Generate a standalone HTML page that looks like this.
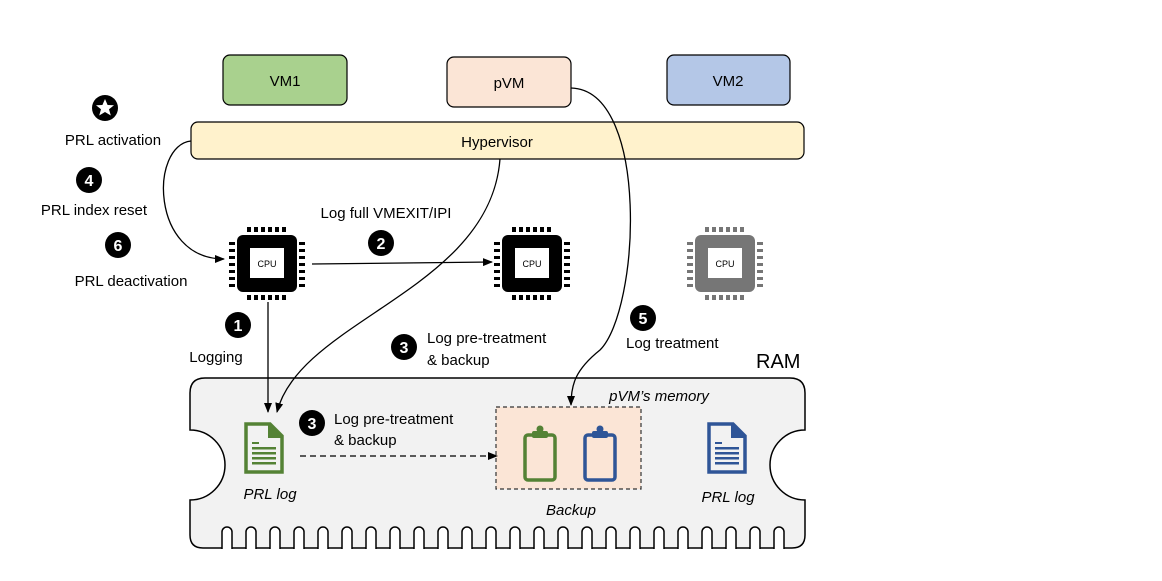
<!DOCTYPE html>
<html><head><meta charset="utf-8"><style>
html,body{margin:0;padding:0;background:#fff}
svg{display:block}
text{font-family:"Liberation Sans",sans-serif}
</style></head><body>
<svg width="1162" height="581" viewBox="0 0 1162 581" xmlns="http://www.w3.org/2000/svg">
<defs>
<marker id="ah" markerWidth="10" markerHeight="8" refX="9" refY="4" orient="auto" markerUnits="userSpaceOnUse"><path d="M0,0 L10,4 L0,8 Z" fill="#000"/></marker>
<g id="cpu">
<rect x="-30" y="-29" width="60" height="57" rx="6" fill="currentColor"/>
<rect x="-17" y="-16" width="34" height="30" fill="#fff"/>
<text x="0" y="3" font-size="9" text-anchor="middle" fill="#000">CPU</text>
<g fill="currentColor">
<rect x="-20" y="-37" width="4" height="5"/><rect x="-13" y="-37" width="4" height="5"/><rect x="-6" y="-37" width="4" height="5"/><rect x="1" y="-37" width="4" height="5"/><rect x="8" y="-37" width="4" height="5"/><rect x="15" y="-37" width="4" height="5"/>
<rect x="-20" y="31" width="4" height="5"/><rect x="-13" y="31" width="4" height="5"/><rect x="-6" y="31" width="4" height="5"/><rect x="1" y="31" width="4" height="5"/><rect x="8" y="31" width="4" height="5"/><rect x="15" y="31" width="4" height="5"/>
<rect x="-38" y="-22" width="6" height="3"/><rect x="-38" y="-15" width="6" height="3"/><rect x="-38" y="-8" width="6" height="3"/><rect x="-38" y="-1" width="6" height="3"/><rect x="-38" y="6" width="6" height="3"/><rect x="-38" y="13" width="6" height="3"/><rect x="-38" y="20" width="6" height="3"/>
<rect x="32" y="-22" width="6" height="3"/><rect x="32" y="-15" width="6" height="3"/><rect x="32" y="-8" width="6" height="3"/><rect x="32" y="-1" width="6" height="3"/><rect x="32" y="6" width="6" height="3"/><rect x="32" y="13" width="6" height="3"/><rect x="32" y="20" width="6" height="3"/>
</g>
</g>
<g id="doc">
<path d="M-18,-24 H6 L18,-12 V24 H-18 Z" fill="none" stroke="currentColor" stroke-width="3.5" stroke-linejoin="miter"/>
<path d="M4,-24 V-10 H18" fill="currentColor"/>
<g fill="currentColor"><rect x="-12" y="-6" width="7" height="2"/><rect x="-12" y="-1" width="24" height="2.5"/><rect x="-12" y="4" width="24" height="2.5"/><rect x="-12" y="9" width="24" height="2.5"/><rect x="-12" y="14" width="24" height="2.5"/></g>
</g>
<g id="clip">
<rect x="-15" y="-20" width="30" height="45" rx="3" fill="none" stroke="currentColor" stroke-width="3.5"/>
<rect x="-8" y="-24" width="16" height="7" rx="2" fill="currentColor"/>
<circle cx="0" cy="-26" r="3.5" fill="currentColor"/>
</g>
</defs>

<!-- VMs -->
<rect x="223" y="55" width="124" height="50" rx="7" fill="#a9d18e" stroke="#000" stroke-width="1.2"/>
<text x="285" y="86" font-size="15" text-anchor="middle">VM1</text>
<rect x="447" y="57" width="124" height="50" rx="7" fill="#fbe5d6" stroke="#000" stroke-width="1.2"/>
<text x="509" y="88" font-size="15" text-anchor="middle">pVM</text>
<rect x="667" y="55" width="123" height="50" rx="7" fill="#b4c7e7" stroke="#000" stroke-width="1.2"/>
<text x="728" y="86" font-size="15" text-anchor="middle">VM2</text>

<!-- Hypervisor -->
<rect x="191" y="122" width="613" height="37" rx="7" fill="#fff2cc" stroke="#000" stroke-width="1.2"/>
<text x="497" y="147" font-size="15" text-anchor="middle">Hypervisor</text>

<!-- RAM body -->
<path d="M205,378 H790 Q805,378 805,393 V430 A35,35 0 0 0 805,500 V535 Q805,548 792,548 H203 Q190,548 190,535 V500 A35,35 0 0 0 190,430 V393 Q190,378 205,378 Z" fill="#f2f2f2" stroke="#000" stroke-width="1.5"/>
<g fill="#fff" stroke="#000" stroke-width="1.5">
<path d="M222,549 V532 a5,5 0 0 1 10,0 V549"/><path d="M246,549 V532 a5,5 0 0 1 10,0 V549"/><path d="M270,549 V532 a5,5 0 0 1 10,0 V549"/><path d="M294,549 V532 a5,5 0 0 1 10,0 V549"/><path d="M318,549 V532 a5,5 0 0 1 10,0 V549"/><path d="M342,549 V532 a5,5 0 0 1 10,0 V549"/><path d="M366,549 V532 a5,5 0 0 1 10,0 V549"/><path d="M390,549 V532 a5,5 0 0 1 10,0 V549"/><path d="M414,549 V532 a5,5 0 0 1 10,0 V549"/><path d="M438,549 V532 a5,5 0 0 1 10,0 V549"/><path d="M462,549 V532 a5,5 0 0 1 10,0 V549"/><path d="M486,549 V532 a5,5 0 0 1 10,0 V549"/><path d="M510,549 V532 a5,5 0 0 1 10,0 V549"/><path d="M534,549 V532 a5,5 0 0 1 10,0 V549"/><path d="M558,549 V532 a5,5 0 0 1 10,0 V549"/><path d="M582,549 V532 a5,5 0 0 1 10,0 V549"/><path d="M606,549 V532 a5,5 0 0 1 10,0 V549"/><path d="M630,549 V532 a5,5 0 0 1 10,0 V549"/><path d="M654,549 V532 a5,5 0 0 1 10,0 V549"/><path d="M678,549 V532 a5,5 0 0 1 10,0 V549"/><path d="M702,549 V532 a5,5 0 0 1 10,0 V549"/><path d="M726,549 V532 a5,5 0 0 1 10,0 V549"/><path d="M750,549 V532 a5,5 0 0 1 10,0 V549"/><path d="M774,549 V532 a5,5 0 0 1 10,0 V549"/>
</g>
<text x="756" y="368" font-size="20">RAM</text>

<!-- pVM memory box -->
<rect x="496" y="407" width="145" height="82" fill="#fbe5d6" stroke="#333" stroke-width="1.2" stroke-dasharray="4,3"/>
<text x="659" y="401" font-size="15" font-style="italic" text-anchor="middle">pVM’s memory</text>
<use href="#clip" x="540" y="455" color="#548235"/>
<use href="#clip" x="600" y="455" color="#2f5597"/>
<text x="571" y="515" font-size="15" font-style="italic" text-anchor="middle">Backup</text>

<use href="#doc" x="264" y="448" color="#548235"/>
<text x="270" y="499" font-size="15" font-style="italic" text-anchor="middle">PRL log</text>
<use href="#doc" x="727" y="448" color="#2f5597"/>
<text x="728" y="502" font-size="15" font-style="italic" text-anchor="middle">PRL log</text>

<!-- CPUs -->
<use href="#cpu" x="267" y="264" color="#000"/>
<use href="#cpu" x="532" y="264" color="#000"/>
<use href="#cpu" x="725" y="264" color="#767676"/>

<!-- connectors -->
<g fill="none" stroke="#000" stroke-width="1.3">
<path d="M191,141 C150,145 150,259 224,259" marker-end="url(#ah)"/>
<path d="M312,264 L492,262" marker-end="url(#ah)"/>
<path d="M268,302 V412" marker-end="url(#ah)"/>
<path d="M500,159 C490,290 300,320 277,412" marker-end="url(#ah)"/>
<path d="M571,88 C650,90 640,310 600,350 C575,370 571,385 571,405" marker-end="url(#ah)"/>
<path d="M300,456 H497" stroke-dasharray="6,4" marker-end="url(#ah)"/>
</g>

<!-- numbered circles -->
<g font-family="'DejaVu Serif',serif" font-weight="bold" font-size="16" text-anchor="middle">
<circle cx="105" cy="108" r="13" fill="#000"/>
<polygon points="105,99 107.6,105 114,105.3 109,109.3 110.8,115.5 105,112 99.2,115.5 101,109.3 96,105.3 102.4,105" fill="#fff"/>
<circle cx="89" cy="180" r="13" fill="#000"/><text x="89" y="186" fill="#fff">4</text>
<circle cx="118" cy="245" r="13" fill="#000"/><text x="118" y="251" fill="#fff">6</text>
<circle cx="238" cy="325" r="13" fill="#000"/><text x="238" y="331" fill="#fff">1</text>
<circle cx="381" cy="243" r="13" fill="#000"/><text x="381" y="249" fill="#fff">2</text>
<circle cx="404" cy="347" r="13" fill="#000"/><text x="404" y="353" fill="#fff">3</text>
<circle cx="312" cy="423" r="13" fill="#000"/><text x="312" y="429" fill="#fff">3</text>
<circle cx="643" cy="318" r="13" fill="#000"/><text x="643" y="324" fill="#fff">5</text>
</g>

<!-- labels -->
<g font-size="15">
<text x="113" y="145" text-anchor="middle">PRL activation</text>
<text x="94" y="215" text-anchor="middle">PRL index reset</text>
<text x="131" y="286" text-anchor="middle">PRL deactivation</text>
<text x="216" y="362" text-anchor="middle">Logging</text>
<text x="386" y="218" text-anchor="middle">Log full VMEXIT/IPI</text>
<text x="427" y="343">Log pre-treatment</text>
<text x="427" y="365">&amp; backup</text>
<text x="626" y="348">Log treatment</text>
<text x="334" y="424">Log pre-treatment</text>
<text x="334" y="445">&amp; backup</text>
</g>
</svg>
</body></html>
